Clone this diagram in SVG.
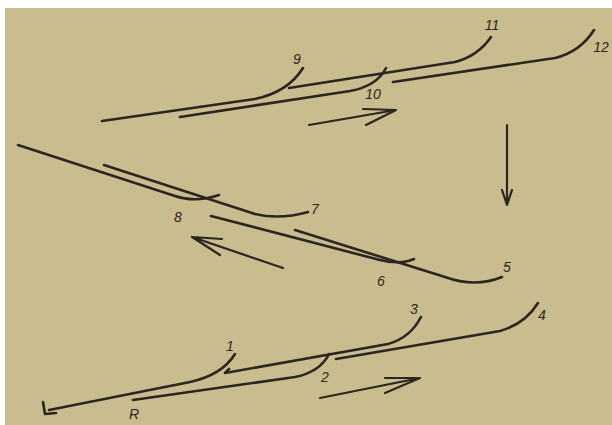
<svg xmlns="http://www.w3.org/2000/svg" width="612" height="425" viewBox="0 0 612 425">
<style>
.ln{fill:none;stroke:#2b2620;stroke-width:2.6;stroke-linecap:round;stroke-linejoin:round}
.ar{fill:none;stroke:#2b2620;stroke-width:2.2;stroke-linecap:round;stroke-linejoin:round}
.lb{font-family:"Liberation Sans",sans-serif;font-style:italic;font-size:14px;fill:#2b2620;text-anchor:middle}
</style>
<rect x="0" y="0" width="612" height="425" fill="#ffffff"/>
<rect x="5" y="8" width="607" height="417" fill="#c9bd8f"/>
<g id="top">
<path class="ln" d="M102,121 L255,99 Q288,92 303,68"/>
<path class="ln" d="M180,117 L350,91 Q377,86 386,68"/>
<path class="ln" d="M289,88 L455,62 Q478,56 491,37"/>
<path class="ln" d="M393,82 L555,58 Q580,52 594,30"/>
<path class="ar" d="M309,125 L396,110 M363,109 L396,110 L366,125"/>
<text class="lb" x="297" y="64">9</text>
<text class="lb" x="373" y="99">10</text>
<text class="lb" x="492" y="30">11</text>
<text class="lb" x="601" y="52">12</text>
</g>
<g id="down-arrow">
<path class="ar" d="M507,125 L507,205 M502,190 L507,205 L512,190"/>
</g>
<g id="middle">
<path class="ln" d="M18,145 L175,196 Q195,203 219,195"/>
<path class="ln" d="M104,165 L255,214 Q280,220 308,212"/>
<path class="ln" d="M211,216 L380,260 Q400,265 414,259"/>
<path class="ln" d="M295,230 L445,277 Q475,288 502,277"/>
<path class="ar" d="M283,268 L192,237 M222,239 L192,237 L220,255"/>
<text class="lb" x="178" y="222">8</text>
<text class="lb" x="315" y="214">7</text>
<text class="lb" x="381" y="286">6</text>
<text class="lb" x="507" y="272">5</text>
</g>
<g id="bottom">
<path class="ln" d="M49,410 L190,382 Q222,375 235,354"/>
<path class="ln" d="M133,400 L295,377 Q320,372 329,354"/>
<path class="ln" d="M229,369 L225,373 L388,344 Q410,338 421,317"/>
<path class="ln" d="M336,359 L500,331 Q525,324 538,303"/>
<path class="ln" d="M43,402 L45,414 L56,413"/>
<path class="ar" d="M320,398 L420,378 M385,378 L420,378 L385,393"/>
<text class="lb" x="230" y="351">1</text>
<text class="lb" x="325" y="382">2</text>
<text class="lb" x="414" y="314">3</text>
<text class="lb" x="542" y="320">4</text>
<text class="lb" x="134" y="419">R</text>
</g>
</svg>
